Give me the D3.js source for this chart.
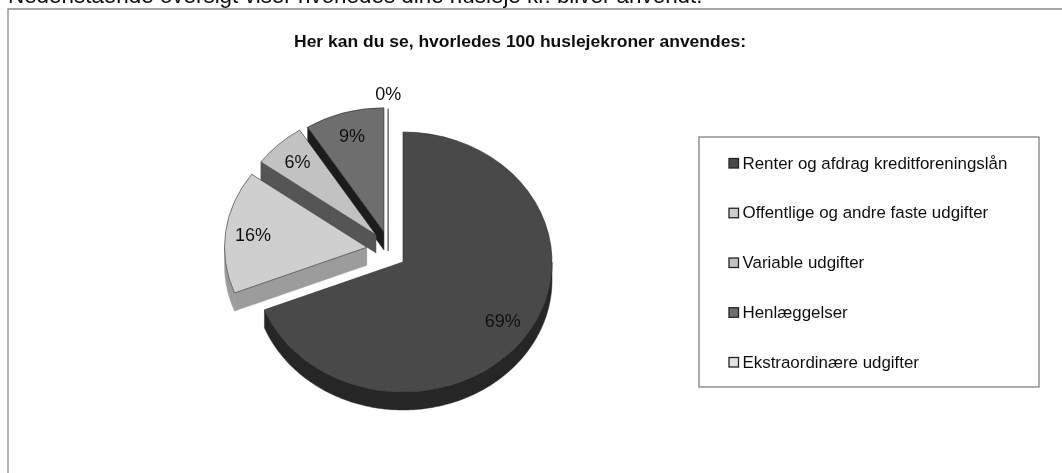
<!DOCTYPE html>
<html>
<head>
<meta charset="utf-8">
<script src="https://cdn.jsdelivr.net/npm/d3@7"></script>
<style>
  html, body { margin: 0; padding: 0; background: #fff; overflow: hidden; }
  text { font-family: "Liberation Sans", Arial, sans-serif; fill: #111; }
</style>
</head>
<body>
<svg id="chart"></svg>
<script>
(() => {

  const categories = ['Renter og afdrag kreditforeningslån', 'Offentlige og andre faste udgifter', 'Variable udgifter', 'Henlæggelser', 'Ekstraordinære udgifter'];
  const values = [69, 16, 6, 9, 0];
  const labels = ['69%', '16%', '6%', '9%', '0%'];

  const heading = 'Nedenstående oversigt viser hvorledes dine husleje kr. bliver anvendt.';
  const title = 'Her kan du se, hvorledes 100 huslejekroner anvendes:';

  const topColors = ['#4a4a4a', '#cfcfcf', '#c2c2c2', '#6e6e6e', '#e4e4e4'];
  const wallColors = ['#262626', '#9c9c9c', '#555555', '#1c1c1c', '#777777'];
  // direction each slice is pulled out in, degrees clockwise from top, 0 amount = not pulled
  const explodeAngles = [0, 295, 319, 331, 336];
  const explodeAmounts = [0, 0.268, 0.276, 0.264, 0.245];

  const svgWidth = 1062;
  const svgHeight = 473;
  const cx = 403;
  const cy = 262;
  const rx = 149;
  const ry = 130;
  const depth = 18;
  const pulledRadius = 0.955; // pulled slices are drawn a little smaller

  const svg = d3.select('#chart')
    .attr('width', svgWidth)
    .attr('height', svgHeight)
    .style('display', 'block');

  // soft blur, the original is a scan
  svg.append('defs').append('filter').attr('id', 'scan')
    .append('feGaussianBlur').attr('stdDeviation', 0.45);

  const root = svg.append('g').attr('filter', 'url(#scan)');

  root.append('text')
    .attr('x', 8)
    .attr('y', 3)
    .attr('font-size', 22.4)
    .text(heading);

  root.append('path')
    .attr('d', `M8,${svgHeight}V9H${svgWidth}`)
    .attr('fill', 'none')
    .attr('stroke', '#8a8a8a')
    .attr('stroke-width', 1.3);

  root.append('text')
    .attr('x', 294)
    .attr('y', 47)
    .attr('textLength', 452)
    .attr('lengthAdjust', 'spacingAndGlyphs')
    .attr('font-size', 16)
    .attr('font-weight', 'bold')
    .text(title);

  const pie = d3.pie().sort(null).value(d => d);
  const slices = pie(values).map((d, i) => {
    const a = explodeAngles[i] * Math.PI / 180;
    const r = explodeAmounts[i] > 0 ? pulledRadius : 1;
    return {
      ...d,
      i,
      rx: rx * r,
      ry: ry * r,
      x: cx + Math.sin(a) * explodeAmounts[i] * rx,
      y: cy - Math.cos(a) * explodeAmounts[i] * ry
    };
  });

  const arc = d3.arc().innerRadius(0).outerRadius(1);
  const line = d3.line();
  const px = (s, a) => s.x + Math.sin(a) * s.rx;
  const py = (s, a) => s.y - Math.cos(a) * s.ry;

  // the parts of the outer rim that face the viewer
  function rimWall(s) {
    const from = Math.max(s.startAngle, Math.PI / 2);
    const to = Math.min(s.endAngle, Math.PI * 1.5);
    if (to <= from) return null;
    const angles = d3.range(from, to, 0.02).concat(to);
    const top = angles.map(a => [px(s, a), py(s, a)]);
    const bottom = angles.map(a => [px(s, a), py(s, a) + depth]).reverse();
    return line(top.concat(bottom)) + 'Z';
  }

  // the cut edge on the lower side of a pulled slice
  function cutWall(s) {
    if (s.endAngle - s.startAngle >= Math.PI || s.value === 0) return null;
    const p = [px(s, s.startAngle), py(s, s.startAngle)];
    return line([[s.x, s.y], p, [p[0], p[1] + depth], [s.x, s.y + depth]]) + 'Z';
  }

  // back to front
  const order = slices.slice().reverse();

  order.forEach(s => {
    const g = root.append('g');
    const wall = wallColors[s.i];

    if (s.value === 0) {
      g.append('path')
        .attr('d', line([[s.x, py(s, 0)], [s.x, s.y + depth]]))
        .attr('stroke', wall)
        .attr('stroke-width', 1.6);
      return;
    }

    [rimWall(s), cutWall(s)].filter(Boolean).forEach(d => {
      g.append('path')
        .attr('d', d)
        .attr('fill', wall)
        .attr('stroke', wall)
        .attr('stroke-width', 0.5);
    });

    g.append('path')
      .attr('d', arc(s))
      .attr('transform', `translate(${s.x},${s.y}) scale(${s.rx},${s.ry})`)
      .attr('fill', topColors[s.i])
      .attr('stroke', '#2a2a2a')
      .attr('stroke-width', 0.6)
      .attr('vector-effect', 'non-scaling-stroke');
  });

  // how far along the radius each label sits
  const labelAt = s => s.value === 0 ? 1.07 : (s.i === 0 ? 0.81 : 0.77);

  root.selectAll('text.slice')
    .data(slices)
    .enter()
    .append('text')
    .attr('class', 'slice')
    .attr('text-anchor', 'middle')
    .attr('dominant-baseline', 'central')
    .attr('font-size', 18)
    .attr('x', s => s.x + Math.sin((s.startAngle + s.endAngle) / 2) * rx * labelAt(s))
    .attr('y', s => s.y - Math.cos((s.startAngle + s.endAngle) / 2) * ry * labelAt(s))
    .text((s, i) => labels[i]);

  // legend
  const legendX = 699;
  const legendRight = 1039;
  const legendTop = 137;
  const legendBottom = 387;

  root.append('rect')
    .attr('x', legendX)
    .attr('y', legendTop)
    .attr('width', legendRight - legendX)
    .attr('height', legendBottom - legendTop)
    .attr('fill', 'none')
    .attr('stroke', '#808080')
    .attr('stroke-width', 1.3);

  const yLegend = d3.scalePoint()
    .domain(categories)
    .range([163, 362]);

  const rows = root.selectAll('g.row')
    .data(categories)
    .enter()
    .append('g')
    .attr('class', 'row')
    .attr('transform', d => `translate(0,${yLegend(d)})`);

  rows.append('rect')
    .attr('x', 729)
    .attr('y', -4.5)
    .attr('width', 9.5)
    .attr('height', 9.5)
    .attr('fill', (d, i) => topColors[i])
    .attr('stroke', '#222')
    .attr('stroke-width', 1.3);

  rows.append('text')
    .attr('x', 742.5)
    .attr('dominant-baseline', 'central')
    .attr('font-size', 16.9)
    .text(d => d);

})();
</script>
</body>
</html>
